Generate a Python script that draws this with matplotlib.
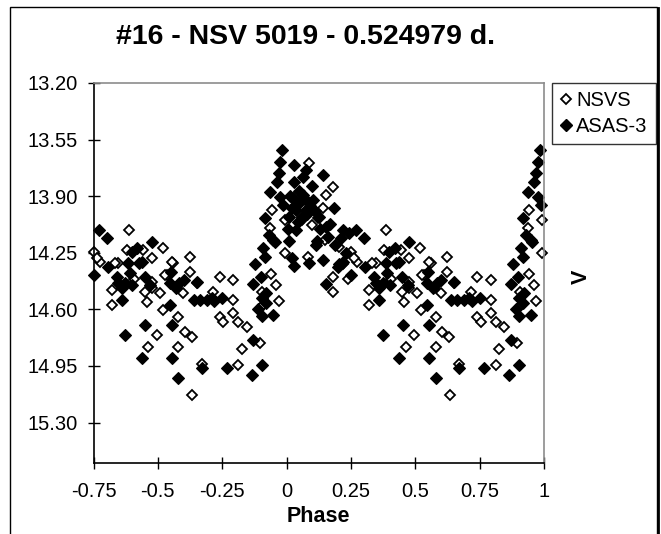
import matplotlib
matplotlib.use("Agg")
import matplotlib.pyplot as plt
import numpy as np
from matplotlib.patches import Rectangle
from matplotlib.lines import Line2D

plt.rcParams['font.family'] = ['Liberation Sans', 'DejaVu Sans']

# phase in [0, 1), V magnitude -- points with phase >= 0.25 are repeated at phase - 1
nsvs_phase = [0.088, 0.179, 0.153, 0.140, 0.121, 0.082, 0.179, 0.179, 0.205, 0.060,
              0.100, 0.150, 0.220, 0.240,
              0.252, 0.275, 0.321, 0.321, 0.346, 0.386, 0.379, 0.444, 0.476, 0.450,
              0.457, 0.520, 0.560, 0.534, 0.508, 0.625, 0.625, 0.741, 0.793, 0.715,
              0.793, 0.521, 0.579, 0.495, 0.463, 0.579, 0.605, 0.631, 0.670, 0.634,
              0.741, 0.754, 0.793, 0.812, 0.845, 0.825, 0.812, 0.896, 0.940, 0.476,
              0.528, 0.651, 0.599, 0.554, 0.994, 0.994, 0.943, 0.936, 0.905, 0.910,
              0.960, 0.970, 0.333, 0.406, 0.477, 0.263]
nsvs_mag = [13.697, 13.841, 13.893, 13.975, 14.037, 14.274, 14.398, 14.490, 14.212, 14.050,
            14.080, 14.170, 14.320, 14.410,
            14.245, 14.305, 14.480, 14.573, 14.315, 14.110, 14.233, 14.233, 14.284, 14.490,
            14.552, 14.220, 14.315, 14.387, 14.500, 14.274, 14.367, 14.398, 14.418, 14.490,
            14.542, 14.604, 14.645, 14.758, 14.831, 14.831, 14.738, 14.769, 14.940, 15.129,
            14.645, 14.676, 14.624, 14.676, 14.707, 14.843, 14.944, 14.810, 14.382, 14.428,
            14.387, 14.439, 14.500, 14.305, 14.253, 14.047, 13.985, 14.099, 14.490, 14.570,
            14.450, 14.550, 14.315, 14.410, 14.470, 14.285]

asas_phase = [0.030, 0.076, 0.140, 0.030, 0.024, 0.050, 0.101, 0.076, 0.127, 0.186,
              0.153, 0.011, 0.037, 0.115, 0.140, 0.088, 0.218, 0.244, 0.218, 0.153,
              0.037, 0.063, 0.205, 0.050, 0.090, 0.060, 0.110, 0.020, 0.045, 0.130,
              0.160, 0.120, 0.190, 0.210, 0.230, 0.005, 0.010, 0.020, 0.030, 0.065,
              0.100, 0.170, 0.200, 0.015, 0.070, 0.080,
              0.270, 0.301, 0.305, 0.251, 0.346, 0.373, 0.359, 0.385, 0.425, 0.398,
              0.420, 0.437, 0.476, 0.392, 0.547, 0.583, 0.547, 0.651, 0.640, 0.663,
              0.690, 0.710, 0.373, 0.451, 0.438, 0.554, 0.580, 0.554, 0.671, 0.768,
              0.865, 0.904, 0.871, 0.904, 0.949, 0.904, 0.878, 0.917, 0.922, 0.983,
              0.975, 0.969, 0.962, 0.936, 0.975, 0.988, 0.917, 0.930, 0.955, 0.909,
              0.948, 0.870, 0.900, 0.920, 0.890, 0.340, 0.360, 0.400, 0.450, 0.470,
              0.550, 0.570, 0.600, 0.720, 0.750]
asas_mag = [13.707, 13.738, 13.769, 13.810, 13.913, 13.944, 13.924, 13.985, 14.027, 13.975,
            14.089, 14.027, 14.109, 14.202, 14.295, 14.315, 14.109, 14.130, 14.305, 14.440,
            13.985, 13.893, 14.320, 13.870, 13.960, 14.030, 13.990, 13.970, 14.060, 14.100,
            14.150, 14.180, 14.200, 14.160, 14.250, 14.100, 14.180, 14.280, 14.330, 13.780,
            13.840, 14.070, 14.340, 13.900, 13.920, 14.010,
            14.109, 14.160, 14.340, 14.387, 14.439, 14.439, 14.542, 14.315, 14.315, 14.243,
            14.220, 14.305, 14.186, 14.377, 14.439, 14.439, 14.570, 14.428, 14.542, 14.540,
            14.540, 14.531, 14.758, 14.697, 14.902, 14.902, 15.026, 14.697, 14.965, 14.965,
            15.006, 14.944, 14.789, 14.640, 14.635, 14.530, 14.320, 14.274, 14.500, 13.614,
            13.687, 13.758, 13.810, 13.872, 13.903, 13.954, 14.037, 14.140, 14.181, 14.220,
            14.171, 14.440, 14.400, 14.560, 14.600, 14.400, 14.470, 14.450, 14.400, 14.450,
            14.370, 14.470, 14.420, 14.550, 14.530]

x_ticks = [-0.75, -0.5, -0.25, 0, 0.25, 0.5, 0.75, 1]
x_tick_labels = ['-0.75', '-0.5', '-0.25', '0', '0.25', '0.5', '0.75', '1']
y_ticks = [13.20, 13.55, 13.90, 14.25, 14.60, 14.95, 15.30]


def wrap(phase, mag):
    phase = np.asarray(phase)
    mag = np.asarray(mag)
    back = phase >= 0.25
    return np.concatenate([phase, phase[back] - 1]), np.concatenate([mag, mag[back]])


fig = plt.figure(figsize=(6.61, 5.34), dpi=100)
ax = fig.add_axes([93.5 / 661, 71 / 534, 450.5 / 661, 380 / 534])

nx, ny = wrap(nsvs_phase, nsvs_mag)
axx, axy = wrap(asas_phase, asas_mag)
ax.plot(nx, ny, ls='none', marker='D', ms=5.6, mfc='white', mec='black', mew=1.3, clip_on=False)
ax.plot(axx, axy, ls='none', marker='D', ms=6.2, mfc='black', mec='black', mew=0.8, clip_on=False)

ax.set_xlim(-0.75, 1)
ax.set_ylim(15.55, 13.20)
ax.set_xticks(x_ticks)
ax.set_xticklabels(x_tick_labels)
ax.set_yticks(y_ticks)
ax.set_yticklabels([f'{v:.2f}' for v in y_ticks])
ax.tick_params(direction='inout', length=8, width=1, labelsize=14.5, color='black')
ax.tick_params(axis='x', pad=10)
ax.tick_params(axis='y', pad=7)

for s in ['left', 'bottom']:
    ax.spines[s].set_color('black')
    ax.spines[s].set_linewidth(1.2)
for s in ['top', 'right']:
    ax.spines[s].set_color('#8c8c8c')
    ax.spines[s].set_linewidth(1.2)

ax.set_xlabel('Phase', fontsize=15.5, fontweight='bold', labelpad=3)
fig.text(581 / 661, 1 - 277 / 534, 'V', rotation=90, fontsize=15.5, fontweight='bold',
         ha='center', va='center')
fig.text(306 / 661, 1 - 37 / 534, '#16 - NSV 5019 - 0.524979 d.', fontsize=20.5,
         fontweight='bold', ha='center', va='center')

handles = [Line2D([], [], ls='none', marker='D', ms=5.6, mfc='white', mec='black', mew=1.3),
           Line2D([], [], ls='none', marker='D', ms=6.2, mfc='black', mec='black')]
leg = fig.legend(handles, ['NSVS', 'ASAS-3'], loc='upper left',
                 bbox_to_anchor=(552 / 661, 1 - 83 / 534), fontsize=14.5, frameon=True,
                 fancybox=False, handlelength=0.6, handletextpad=0.2, borderpad=0.4,
                 labelspacing=0.35, borderaxespad=0)
leg.get_frame().set_edgecolor('black')
leg.get_frame().set_linewidth(1.0)

# chart area border
fig.add_artist(Rectangle((10 / 661, -0.02), 647 / 661, 1.02 - 7 / 534,
                         transform=fig.transFigure, fill=False, ec='black', lw=1.0))
fig.add_artist(Line2D([658 / 661, 658 / 661], [-0.02, 1 - 8 / 534],
                      transform=fig.transFigure, color='black', lw=2.0))

fig.savefig('out.png', dpi=100)
